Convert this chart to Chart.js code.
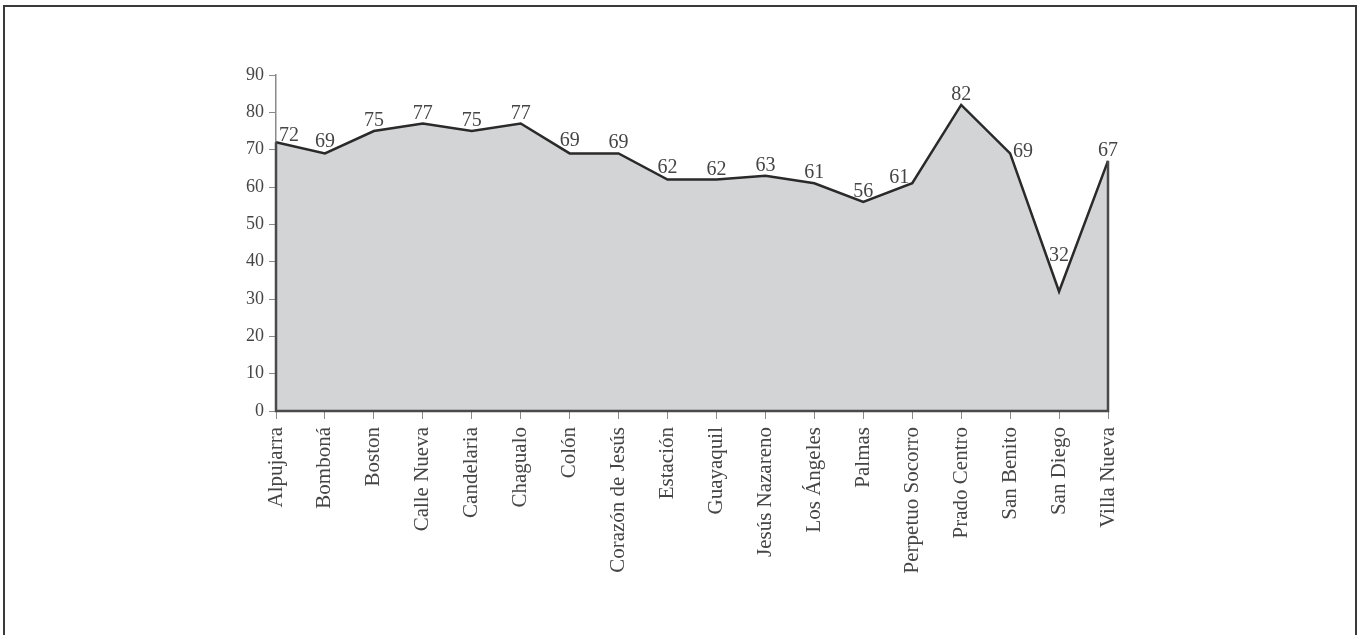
<!DOCTYPE html>
<html>
<head>
<meta charset="utf-8">
<script src="https://cdn.jsdelivr.net/npm/chart.js@4/dist/chart.umd.min.js"></script>
<style>
  html, body { margin: 0; padding: 0; background: #ffffff; }
  #wrap { position: relative; width: 1357px; height: 635px; overflow: hidden; }
  #wrap canvas { display: block; }
  #frame {
    position: absolute; left: 3px; top: 5px; width: 1350px; height: 700px;
    border: 2px solid #3a3a3a; border-bottom: none; pointer-events: none;
  }
</style>
</head>
<body>
<div id="wrap">
  <canvas id="grafico" width="1357" height="635"></canvas>
  <div id="frame"></div>
</div>
<script>
// Barrios y valores
const barrios = [
  'Alpujarra', 'Bomboná', 'Boston', 'Calle Nueva', 'Candelaria', 'Chagualo',
  'Colón', 'Corazón de Jesús', 'Estación', 'Guayaquil', 'Jesús Nazareno',
  'Los Ángeles', 'Palmas', 'Perpetuo Socorro', 'Prado Centro', 'San Benito',
  'San Diego', 'Villa Nueva'
];
const valores = [72, 69, 75, 77, 75, 77, 69, 69, 62, 62, 63, 61, 56, 61, 82, 69, 32, 67];
const marcasY = [0, 10, 20, 30, 40, 50, 60, 70, 80, 90];

const FUENTE = "'Liberation Serif', 'Times New Roman', serif";
const TEXTO = '#454545';

// Contorno del área: bordes verticales en los extremos y la base
const contornoArea = {
  id: 'contornoArea',
  afterDatasetsDraw(chart) {
    const pts = chart.getDatasetMeta(0).data;
    if (!pts.length) return;
    const base = chart.scales.y.getPixelForValue(0);
    const first = pts[0], last = pts[pts.length - 1];
    const ctx = chart.ctx;
    ctx.save();
    ctx.strokeStyle = '#4a4a4a';
    ctx.lineWidth = 2.5;
    ctx.beginPath();
    ctx.moveTo(first.x, first.y);
    ctx.lineTo(first.x, base);
    ctx.lineTo(last.x, base);
    ctx.lineTo(last.x, last.y);
    ctx.stroke();
    ctx.restore();
  }
};

// ¿Cruza el segmento el rectángulo?
function cruza(x1, y1, x2, y2, r) {
  const n = Math.max(2, Math.ceil(Math.hypot(x2 - x1, y2 - y1)));
  for (let k = 0; k <= n; k++) {
    const t = k / n;
    const x = x1 + (x2 - x1) * t, y = y1 + (y2 - y1) * t;
    if (x > r.l && x < r.r && y > r.t && y < r.b) return true;
  }
  return false;
}

// Rótulos de valor junto a cada punto, apartados de la línea
const rotulosValor = {
  id: 'rotulosValor',
  afterDatasetsDraw(chart) {
    const meta = chart.getDatasetMeta(0);
    const data = chart.data.datasets[0].data;
    const area = chart.chartArea;
    const pts = meta.data;
    const ctx = chart.ctx;
    const size = 20;
    const alto = Math.round(size * 0.68);
    const margen = 0.8;

    const segmentos = [];
    for (let i = 1; i < pts.length; i++) {
      segmentos.push([pts[i - 1].x, pts[i - 1].y, pts[i].x, pts[i].y]);
    }
    segmentos.push([area.left, area.top, area.left, area.bottom]);

    ctx.save();
    ctx.font = size + 'px ' + FUENTE;
    ctx.fillStyle = TEXTO;
    ctx.textAlign = 'center';
    ctx.textBaseline = 'alphabetic';

    const libre = (cx, base, w) => {
      const r = { l: cx - w / 2 - margen, r: cx + w / 2 + margen, t: base - alto - margen, b: base + margen };
      if (r.l < area.left) return false;
      return !segmentos.some(s => cruza(s[0], s[1], s[2], s[3], r));
    };

    pts.forEach((p, i) => {
      const txt = String(data[i]);
      const w = ctx.measureText(txt).width;
      let pos = null;
      // centrado encima
      for (let b = p.y - 5; b >= p.y - 10; b--) {
        if (libre(p.x, b, w)) { pos = [p.x, b]; break; }
      }
      // a la izquierda o a la derecha
      const lados = [p.x - 3 - w / 2, p.x + 3 + w / 2];
      for (const cx of lados) {
        if (pos) break;
        for (let b = p.y + 4; b >= p.y - 12; b--) {
          if (libre(cx, b, w)) { pos = [cx, b]; break; }
        }
      }
      // más arriba
      if (!pos) {
        let b = p.y - 10;
        while (!libre(p.x, b, w) && b > area.top - 40) b--;
        pos = [p.x, b];
      }
      ctx.fillText(txt, pos[0], pos[1]);
    });
    ctx.restore();
  }
};

new Chart(document.getElementById('grafico'), {
  type: 'line',
  data: {
    labels: barrios,
    datasets: [{
      data: valores,
      borderColor: '#2a2a2a',
      borderWidth: 2.5,
      backgroundColor: '#d3d4d6',
      fill: 'origin',
      tension: 0,
      pointRadius: 0,
      pointHoverRadius: 0
    }]
  },
  options: {
    responsive: false,
    animation: false,
    devicePixelRatio: 1,
    events: [],
    layout: { padding: { left: 196, right: 249, top: 75, bottom: 0 } },
    plugins: {
      legend: { display: false },
      tooltip: { enabled: false },
      title: { display: false }
    },
    scales: {
      x: {
        type: 'category',
        offset: false,
        afterFit(scale) { scale.height = 224; },
        grid: {
          display: true,
          drawOnChartArea: false,
          drawTicks: true,
          tickLength: 8,
          color: '#8a8a8a',
          lineWidth: 1
        },
        border: { display: true, color: '#444444', width: 2 },
        ticks: {
          autoSkip: false,
          maxRotation: 90,
          minRotation: 90,
          padding: 8,
          color: TEXTO,
          font: { family: FUENTE, size: 21 }
        }
      },
      y: {
        min: 0,
        max: 90,
        afterFit(scale) { scale.width = 80; },
        afterBuildTicks(scale) { scale.ticks = marcasY.map(v => ({ value: v })); },
        grid: {
          display: true,
          drawOnChartArea: false,
          drawTicks: true,
          tickLength: 7,
          color: '#8a8a8a',
          lineWidth: 1
        },
        border: { display: true, color: '#8a8a8a', width: 1.5 },
        ticks: {
          padding: 5,
          color: TEXTO,
          font: { family: FUENTE, size: 18 }
        }
      }
    }
  },
  plugins: [contornoArea, rotulosValor]
});
</script>
</body>
</html>
